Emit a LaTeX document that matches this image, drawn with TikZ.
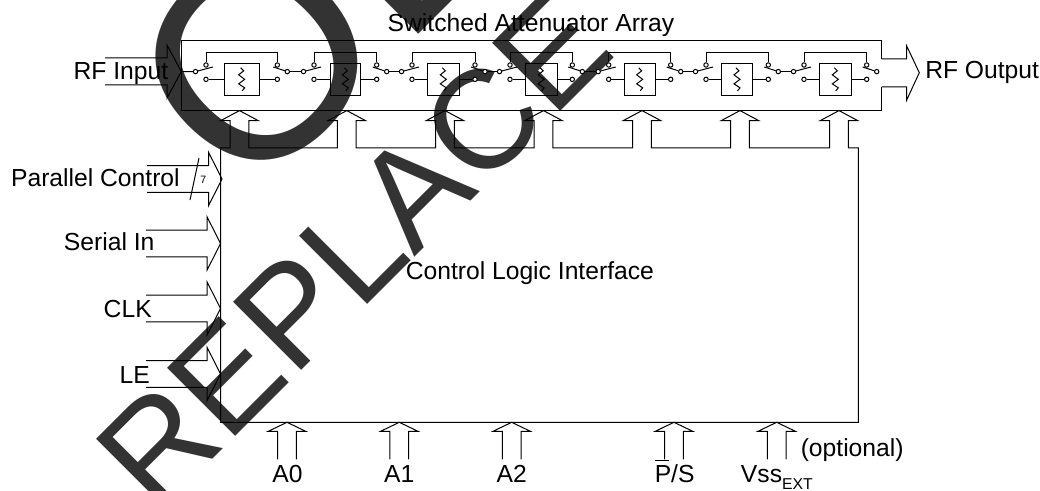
\documentclass[tikz,border=0pt]{standalone}
\usepackage{fontspec}
\setmainfont{Liberation Sans}
\definecolor{stampgray}{RGB}{51,51,51}
\tikzset{
  wire/.style={draw=black,line width=0.75pt,line join=miter},
  lbl/.style={inner sep=0pt,font=\fontsize{18.5}{20}\selectfont,text=black},
  stamp/.style={inner sep=0pt,anchor=base west,rotate=45},
  contact/.style={circle,draw=black,fill=white,line width=0.75pt,minimum size=3.3pt,inner sep=0pt},
  attbox/.style={rectangle,draw=black,line width=0.75pt,inner sep=0pt,minimum height=23.5pt}
}
\begin{document}
\begin{tikzpicture}[x=0.75pt,y=-0.75pt]
\useasboundingbox (0,0) rectangle (1040,491);
\clip (0,0) rectangle (1040,491);
% background stamp
\node[stamp,font=\fontsize{210}{210}\selectfont] (stampa) at (248,205) {\color{stampgray}OB};
\node[stamp,font=\fontsize{105}{105}\selectfont] (stampb) at (156,516) {\color{stampgray}REPLACE};
% upper array outline with gap for the output arrow
\coordinate (outA) at (881.7,59);
\coordinate (outB) at (881.7,87);
\draw[wire] (outA) -- (881.7,40.7) -- (181.3,40.7) -- (181.3,110.6) -- (881.7,110.6) -- (outB);
% output arrow
\coordinate (outTip) at (919.3,72.7);
\draw[wire] (outA) -- (906.7,59) -- (906.7,46) -- (outTip) -- (906.7,100) -- (906.7,87) -- (outB);
% input arrow
\coordinate (inTip) at (181.3,71.5);
\draw[wire] (105,58) -- (167,58) -- (167,45) -- (inTip) -- (167,98) -- (167,85) -- (105,85);
% attenuator stages
\foreach \i/\a/\b/\c/\d in {1/206/224/259.3/277.3,2/314/330/360.7/376.7,3/412/427.3/459.3/475,4/510/525.3/557/572.3,5/608.7/624/655.3/670.7,6/706/721.3/752.7/768.3,7/804/819.3/851.3/866.7}{
  \node[attbox,minimum width={(\c-\b)*0.75pt}] (att\i) at ({(\b+\c)/2},79.35) {};
  \node[contact] (upL\i) at (\a,65) {};
  \node[contact] (loL\i) at (\a,79.35) {};
  \node[contact] (upR\i) at (\d,65) {};
  \node[contact] (loR\i) at (\d,79.35) {};
  \node[contact] (inL\i) at ({\a-10.5},71.6) {};
  \node[contact] (ouR\i) at ({\d+10},71.6) {};
  \draw[wire] (loL\i) -- (att\i);
  \draw[wire] (att\i) -- (loR\i);
  \draw[wire] (upL\i.north) -- (\a,52.3) -- (\d,52.3) -- (upR\i.north);
  \draw[wire] (inL\i) -- ({\a+7},67);
  \draw[wire] (ouR\i) -- ({\d-4},67);
  \draw[wire,shift={(att\i.center)}] (-1,-11.5) -- (2,-8.5) -- (-3,-4.5) -- (3,0) -- (-3,4.5) -- (3,8.5) -- (0.5,11.5);
}
\draw[wire] (inTip) -- (inL1);
\foreach \p/\n in {1/2,2/3,3/4,4/5,5/6,6/7}{
  \draw[wire] (ouR\p) -- (inL\n);
}
% control box with the chain of control arrows
\draw[wire] (220.5,422.3) -- (220.5,148)
  \foreach \m in {239.5,346.8,445,543.5,642,740,839}{
    -- ({\m-9.4},148) -- ({\m-9.4},120.6) -- ({\m-18.7},120.6) -- (\m,110.6)
    -- ({\m+18.7},120.6) -- ({\m+9.4},120.6) -- ({\m+9.4},148)
  }
  -- (858.3,148) -- (858.3,422.3) -- cycle;
% left inputs
\foreach \t/\x/\h in {179/147/208.5,243.5/146/207,308.5/146/207,374/146/207}{
  \draw[wire] (\x,{\t-13.3}) -- (\h,{\t-13.3}) -- (\h,{\t-26.8}) -- ({\h+13.5},\t) -- (\h,{\t+26.8}) -- (\h,{\t+13.3}) -- (\x,{\t+13.3});
}
\coordinate (slashA) at (199,158);
\coordinate (slashB) at (190,200);
\draw[wire] (slashA) -- (slashB);
% bottom inputs
\foreach \m in {287,399.3,511.7,674,776.7}{
  \draw[wire] ({\m-9.4},459.5) -- ({\m-9.4},431.3) -- ({\m-18.7},431.3) -- (\m,422.3) -- ({\m+18.7},431.3) -- ({\m+9.4},431.3) -- ({\m+9.4},459.5);
}
% labels
\node[lbl,anchor=base] (title) at (531,32) {Switched Attenuator Array};
\node[lbl,anchor=base east] (rfin) at (168.5,80) {RF Input};
\node[lbl,anchor=base west] (rfout) at (925,78.5) {RF Output};
\node[lbl,anchor=base east] (par) at (180,186.7) {Parallel Control};
\node[inner sep=0pt,font=\fontsize{8}{8}\selectfont] (seven) at (203.3,180) {7};
\node[lbl,anchor=base east] (ser) at (154.7,250.7) {Serial In};
\node[lbl,anchor=base east] (clk) at (152,318) {CLK};
\node[lbl,anchor=base east] (le) at (150,384) {LE};
\node[lbl,anchor=base west] (ctl) at (405.5,279.3) {Control Logic Interface};
\node[lbl,anchor=base] (a0) at (287.5,483) {A0};
\node[lbl,anchor=base] (a1) at (399.3,483) {A1};
\node[lbl,anchor=base] (a2) at (511.7,483) {A2};
\node[lbl,anchor=base west] (ps) at (654.5,483) {\rlap{\rule[16.3pt]{10.8pt}{0.7pt}}P/S};
\node[lbl,anchor=base west] (vss) at (740.7,483) {Vss\raisebox{-5.2pt}{\fontsize{11.8}{12}\selectfont EXT}};
\node[lbl,anchor=base west] (opt) at (800.5,457) {(optional)};
\end{tikzpicture}
\end{document}
